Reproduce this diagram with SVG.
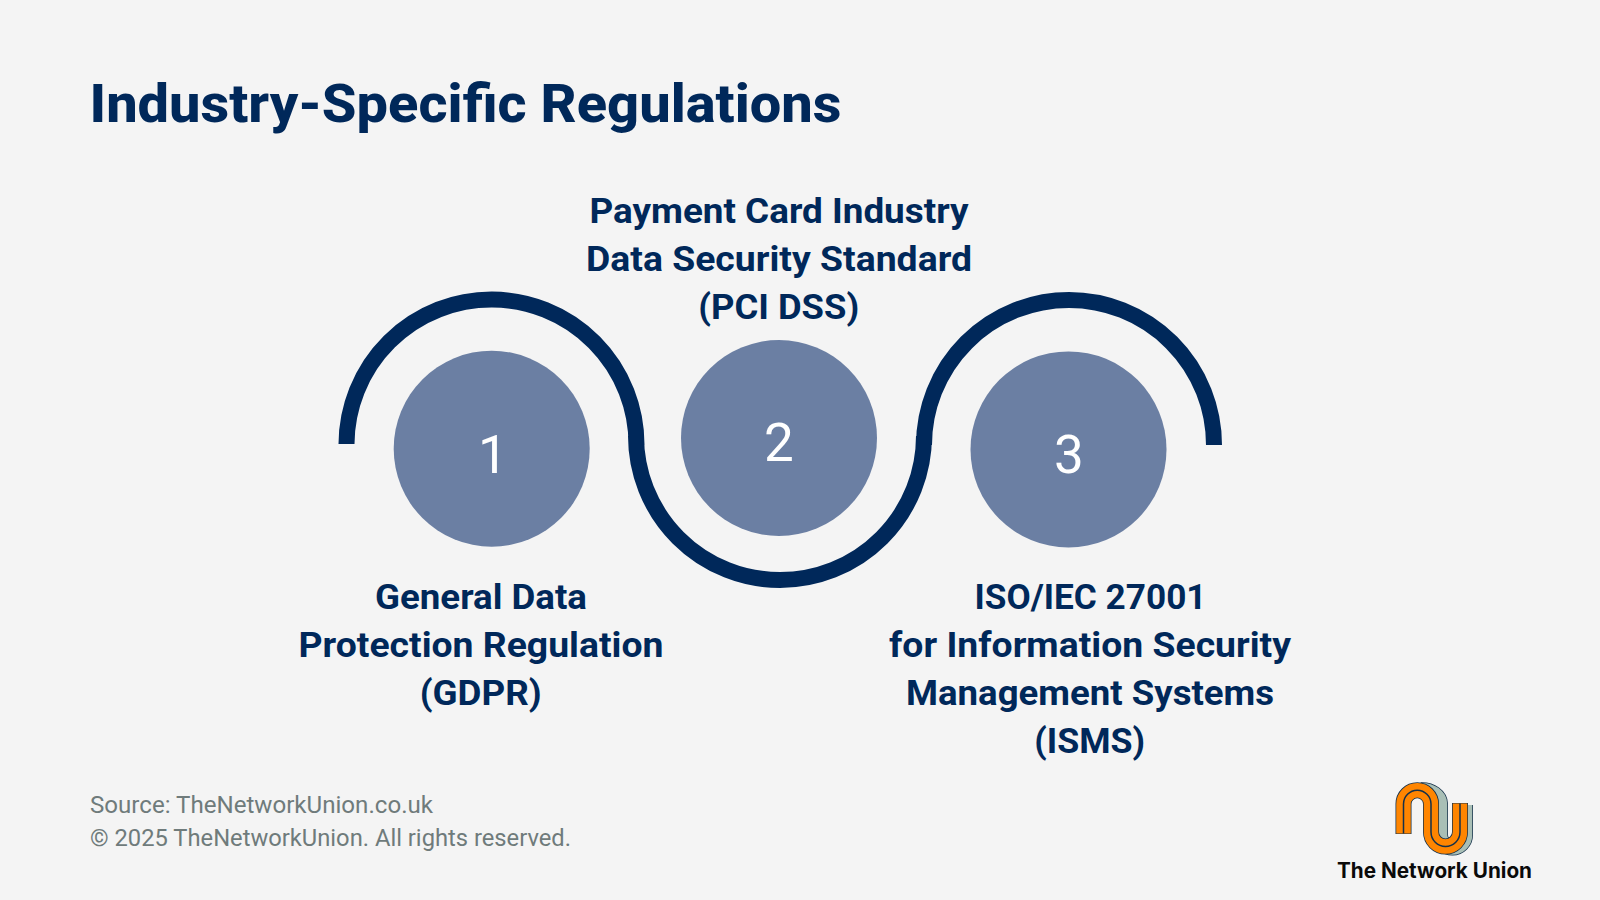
<svg xmlns="http://www.w3.org/2000/svg" width="1600" height="900" viewBox="0 0 1600 900">
<style>
.title{font:800 54.5px Roboto,"Liberation Sans",sans-serif;fill:#00285a}
.label{font:700 35px Roboto,"Liberation Sans",sans-serif;fill:#00285a;text-anchor:middle}
.num{font:400 53px Roboto,"Liberation Sans",sans-serif;fill:#fff;text-anchor:middle}
.foot{font:400 23.5px Roboto,"Liberation Sans",sans-serif;fill:#6f7b7b}
.brand{font:700 21px Inter,"Liberation Sans",sans-serif;fill:#0a0a0a;text-anchor:middle}
.disc{fill:#6b7fa3}
.wave{fill:none;stroke:#00285a;stroke-width:16}
.logo{fill:none}
</style>
<rect width="1600" height="900" fill="#f4f4f4"/>
<text class="title" x="89.5" y="122" textLength="752" lengthAdjust="spacingAndGlyphs">Industry-Specific Regulations</text>
<g id="connectors">
<path class="wave" d="M346.5 444A145 145 0 0 1 636.5 445M636 436A144 144 0 0 0 924 436M924 445A145 145 0 0 1 1214 445"/>
</g>
<g id="node-1">
<circle class="disc" cx="491.7" cy="448.7" r="98"/>
<text class="num" x="493" y="473">1</text>
<text class="label" x="481" y="609.3" textLength="212" lengthAdjust="spacingAndGlyphs">General Data</text>
<text class="label" x="481" y="656.8" textLength="365" lengthAdjust="spacingAndGlyphs">Protection Regulation</text>
<text class="label" x="480.7" y="704.8" textLength="122" lengthAdjust="spacingAndGlyphs">(GDPR)</text>
</g>
<g id="node-2">
<circle class="disc" cx="779" cy="438" r="98"/>
<text class="num" x="779" y="460.7">2</text>
<text class="label" x="779" y="223.3" textLength="379" lengthAdjust="spacingAndGlyphs">Payment Card Industry</text>
<text class="label" x="779" y="271.3" textLength="386" lengthAdjust="spacingAndGlyphs">Data Security Standard</text>
<text class="label" x="778.7" y="319" textLength="161" lengthAdjust="spacingAndGlyphs">(PCI DSS)</text>
</g>
<g id="node-3">
<circle class="disc" cx="1068.5" cy="449.4" r="98"/>
<text class="num" x="1069" y="472.7">3</text>
<text class="label" x="1090.5" y="608.8" textLength="232" lengthAdjust="spacingAndGlyphs">ISO/IEC 27001</text>
<text class="label" x="1090" y="656.8" textLength="402" lengthAdjust="spacingAndGlyphs">for Information Security</text>
<text class="label" x="1090" y="704.8" textLength="368" lengthAdjust="spacingAndGlyphs">Management Systems</text>
<text class="label" x="1089.7" y="752.8" textLength="111" lengthAdjust="spacingAndGlyphs">(ISMS)</text>
</g>
<g id="footer">
<text class="foot" x="90" y="812.5" textLength="343" lengthAdjust="spacingAndGlyphs">Source: TheNetworkUnion.co.uk</text>
<text class="foot" x="90" y="845.5" textLength="481" lengthAdjust="spacingAndGlyphs">© 2025 TheNetworkUnion. All rights reserved.</text>
</g>
<g id="logo" class="logo">
<path d="M1421 790.2A18 14 0 0 1 1440 804V835A12.5 12.5 0 0 0 1465 835V805" stroke="#14304a" stroke-width="16"/>
<path d="M1421 790.2A18 14 0 0 1 1440 804V835A12.5 12.5 0 0 0 1465 835V805" stroke="#a9bfb6" stroke-width="14.5"/>
<path d="M1403.5 834V804A13.75 13.75 0 0 1 1431 804V832A14.5 14.5 0 0 0 1460 832V803" stroke="#14304a" stroke-width="16"/>
<path d="M1403.5 833.5V804A13.75 13.75 0 0 1 1431 804V832A14.5 14.5 0 0 0 1460 832V803.5" stroke="#ff8500" stroke-width="14.5"/>
<path d="M1403.5 833.5V804A13.75 13.75 0 0 1 1431 804V832A14.5 14.5 0 0 0 1460 832V803.5" stroke="#14304a" stroke-width="1.5"/>
<text class="brand" x="1434.5" y="877.7" textLength="195" lengthAdjust="spacingAndGlyphs">The Network Union</text>
</g>
</svg>
